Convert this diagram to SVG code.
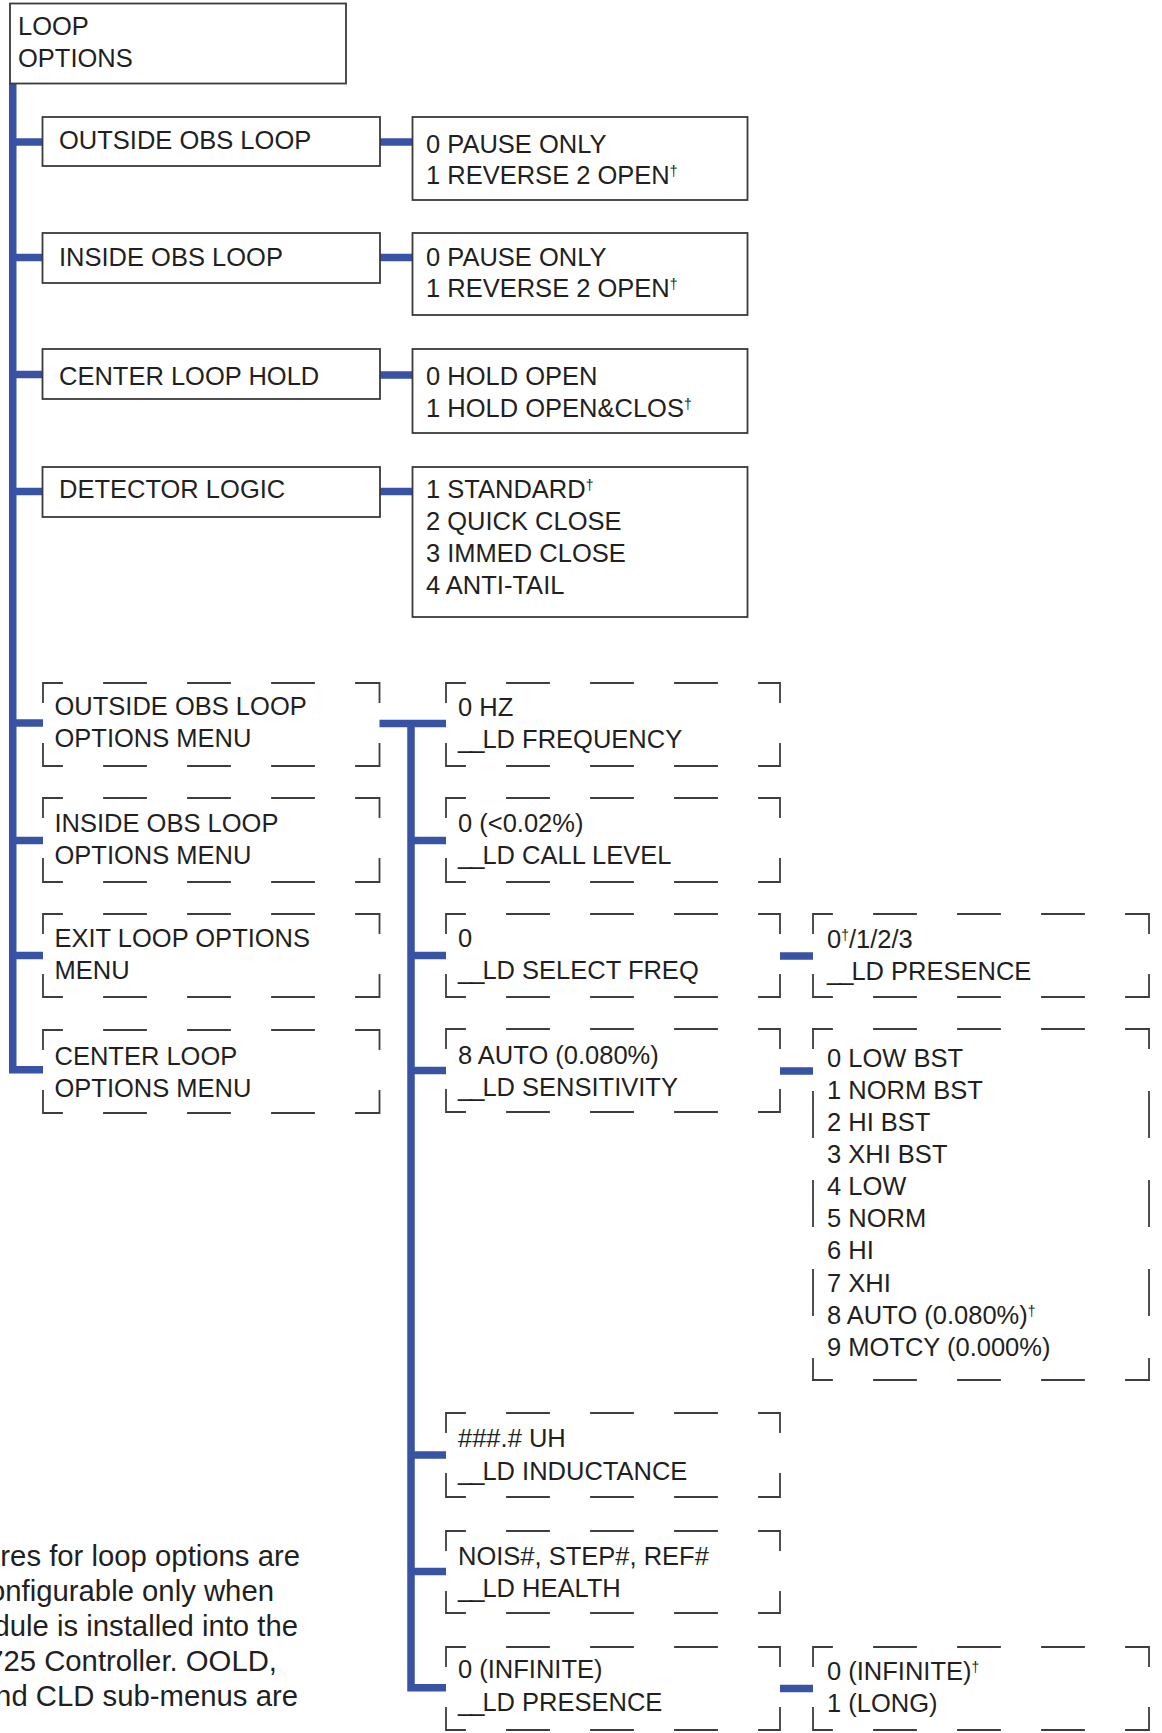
<svg xmlns="http://www.w3.org/2000/svg" width="1162" height="1733" viewBox="0 0 1162 1733">
<style>
.t{font-family:"Liberation Sans",Arial,Helvetica,sans-serif;font-size:25.5px;fill:#231f20}
.fn{font-family:"Liberation Sans",Arial,Helvetica,sans-serif;font-size:29.3px;fill:#231f20;text-anchor:end}
.sup{font-size:14px}
.us{letter-spacing:-2px}
.box{fill:#fff;stroke:#3a3a3a;stroke-width:1.8}
.dsh{fill:none;stroke:#3d3d3d;stroke-width:1.8;stroke-dasharray:42 42;stroke-dashoffset:23;stroke-linecap:square}
.dshv{fill:none;stroke:#3d3d3d;stroke-width:1.8;stroke-dasharray:45 44;stroke-dashoffset:26;stroke-linecap:square}
.wire{fill:none;stroke:#3953a4;stroke-width:7.5;stroke-linecap:butt}
</style>
<rect width="1162" height="1733" fill="#fff"/>

<g id="connectors">
<path class="wire" d="M12.75 83 V1073.5 M12.75 142 H42.5 M12.75 257.5 H42.5 M12.75 374.5 H42.5 M12.75 491.5 H42.5 M12.75 723 H43 M12.75 840.5 H43 M12.75 955.5 H43 M12.75 1069.75 H43"/>
<path class="wire" d="M380 142 H412.5 M380 257.5 H412.5 M380 375 H412.5 M380 491.5 H412.5"/>
<path class="wire" d="M379.5 723.5 H446 M411 719.75 V1691.5 M411 840.5 H446 M411 955.5 H446 M411 1070.5 H446 M411 1455 H446 M411 1571.5 H446 M411 1687.75 H446"/>
<path class="wire" d="M780 956 H813 M780 1071 H813 M780 1688.5 H813"/>
</g>

<g id="loop-options">
<rect class="box" x="10" y="3.5" width="336" height="80"/>
<text class="t" x="18" y="35">LOOP</text>
<text class="t" x="18" y="67">OPTIONS</text>
</g>

<g id="outside-obs-loop">
<rect class="box" x="42.5" y="117" width="337.5" height="49"/>
<text class="t" x="59" y="149">OUTSIDE OBS LOOP</text>
</g>
<g id="outside-obs-values">
<rect class="box" x="412.5" y="117" width="335" height="83"/>
<text class="t" x="426" y="153">0 PAUSE ONLY</text>
<text class="t" x="426" y="184">1 REVERSE 2 OPEN<tspan class="sup" dy="-8">†</tspan></text>
</g>

<g id="inside-obs-loop">
<rect class="box" x="42.5" y="233" width="337.5" height="50"/>
<text class="t" x="59" y="266">INSIDE OBS LOOP</text>
</g>
<g id="inside-obs-values">
<rect class="box" x="412.5" y="233" width="335" height="82"/>
<text class="t" x="426" y="266">0 PAUSE ONLY</text>
<text class="t" x="426" y="297">1 REVERSE 2 OPEN<tspan class="sup" dy="-8">†</tspan></text>
</g>

<g id="center-loop-hold">
<rect class="box" x="42.5" y="349" width="337.5" height="50"/>
<text class="t" x="59" y="385">CENTER LOOP HOLD</text>
</g>
<g id="center-loop-hold-values">
<rect class="box" x="412.5" y="349" width="335" height="84"/>
<text class="t" x="426" y="385">0 HOLD OPEN</text>
<text class="t" x="426" y="417">1 HOLD OPEN&amp;CLOS<tspan class="sup" dy="-8">†</tspan></text>
</g>

<g id="detector-logic">
<rect class="box" x="42.5" y="467" width="337.5" height="50"/>
<text class="t" x="59" y="498">DETECTOR LOGIC</text>
</g>
<g id="detector-logic-values">
<rect class="box" x="412.5" y="467" width="335" height="150"/>
<text class="t" x="426" y="498">1 STANDARD<tspan class="sup" dy="-8">†</tspan></text>
<text class="t" x="426" y="530">2 QUICK CLOSE</text>
<text class="t" x="426" y="562">3 IMMED CLOSE</text>
<text class="t" x="426" y="594">4 ANTI-TAIL</text>
</g>

<g id="oold-menu">
<path class="dsh" d="M43 683 H379.5 M43 683 V766 M379.5 683 V766 M43 766 H379.5"/>
<text class="t" x="54.5" y="715">OUTSIDE OBS LOOP</text>
<text class="t" x="54.5" y="747">OPTIONS MENU</text>
</g>
<g id="iold-menu">
<path class="dsh" d="M43 798 H379.5 M43 798 V882 M379.5 798 V882 M43 882 H379.5"/>
<text class="t" x="54.5" y="832">INSIDE OBS LOOP</text>
<text class="t" x="54.5" y="864">OPTIONS MENU</text>
</g>
<g id="exit-menu">
<path class="dsh" d="M43 914 H379.5 M43 914 V997 M379.5 914 V997 M43 997 H379.5"/>
<text class="t" x="54.5" y="947">EXIT LOOP OPTIONS</text>
<text class="t" x="54.5" y="979">MENU</text>
</g>
<g id="cld-menu">
<path class="dsh" d="M43 1030 H379.5 M43 1030 V1113 M379.5 1030 V1113 M43 1113 H379.5"/>
<text class="t" x="54.5" y="1065">CENTER LOOP</text>
<text class="t" x="54.5" y="1097">OPTIONS MENU</text>
</g>

<g id="ld-frequency">
<path class="dsh" d="M446 683 H780 M446 683 V766 M780 683 V766 M446 766 H780"/>
<text class="t" x="458" y="716">0 HZ</text>
<text class="t" x="458" y="748"><tspan class="us">__</tspan>LD FREQUENCY</text>
</g>
<g id="ld-call-level">
<path class="dsh" d="M446 798 H780 M446 798 V882 M780 798 V882 M446 882 H780"/>
<text class="t" x="458" y="832">0 (&lt;0.02%)</text>
<text class="t" x="458" y="864"><tspan class="us">__</tspan>LD CALL LEVEL</text>
</g>
<g id="ld-select-freq">
<path class="dsh" d="M446 914 H780 M446 914 V997 M780 914 V997 M446 997 H780"/>
<text class="t" x="458" y="947">0</text>
<text class="t" x="458" y="979"><tspan class="us">__</tspan>LD SELECT FREQ</text>
</g>
<g id="ld-sensitivity">
<path class="dsh" d="M446 1029 H780 M446 1029 V1112 M780 1029 V1112 M446 1112 H780"/>
<text class="t" x="458" y="1064">8 AUTO (0.080%)</text>
<text class="t" x="458" y="1096"><tspan class="us">__</tspan>LD SENSITIVITY</text>
</g>
<g id="ld-inductance">
<path class="dsh" d="M446 1413 H780 M446 1413 V1497 M780 1413 V1497 M446 1497 H780"/>
<text class="t" x="458" y="1447">###.# UH</text>
<text class="t" x="458" y="1480"><tspan class="us">__</tspan>LD INDUCTANCE</text>
</g>
<g id="ld-health">
<path class="dsh" d="M446 1531 H780 M446 1531 V1613 M780 1531 V1613 M446 1613 H780"/>
<text class="t" x="458" y="1565">NOIS#, STEP#, REF#</text>
<text class="t" x="458" y="1597"><tspan class="us">__</tspan>LD HEALTH</text>
</g>
<g id="ld-presence">
<path class="dsh" d="M446 1647 H780 M446 1647 V1730 M780 1647 V1730 M446 1730 H780"/>
<text class="t" x="458" y="1678">0 (INFINITE)</text>
<text class="t" x="458" y="1711"><tspan class="us">__</tspan>LD PRESENCE</text>
</g>

<g id="select-freq-values">
<path class="dsh" d="M813 914 H1149 M813 914 V997 M1149 914 V997 M813 997 H1149"/>
<text class="t" x="827" y="948">0<tspan class="sup" dy="-8">†</tspan><tspan dy="8">/1/2/3</tspan></text>
<text class="t" x="827" y="980"><tspan class="us">__</tspan>LD PRESENCE</text>
</g>
<g id="sensitivity-values">
<path class="dsh" d="M813 1029 H1149 M813 1380 H1149"/>
<path class="dshv" d="M813 1029 V1380 M1149 1029 V1380"/>
<text class="t" x="827" y="1067">0 LOW BST</text>
<text class="t" x="827" y="1099">1 NORM BST</text>
<text class="t" x="827" y="1131">2 HI BST</text>
<text class="t" x="827" y="1163">3 XHI BST</text>
<text class="t" x="827" y="1195">4 LOW</text>
<text class="t" x="827" y="1227">5 NORM</text>
<text class="t" x="827" y="1259">6 HI</text>
<text class="t" x="827" y="1292">7 XHI</text>
<text class="t" x="827" y="1324">8 AUTO (0.080%)<tspan class="sup" dy="-8">†</tspan></text>
<text class="t" x="827" y="1356">9 MOTCY (0.000%)</text>
</g>
<g id="presence-values">
<path class="dsh" d="M813 1647 H1149 M813 1647 V1730 M1149 1647 V1730 M813 1730 H1149"/>
<text class="t" x="827" y="1680">0 (INFINITE)<tspan class="sup" dy="-8">†</tspan></text>
<text class="t" x="827" y="1712">1 (LONG)</text>
</g>

<g id="footnote">
<text class="fn" x="300" y="1566">res for loop options are</text>
<text class="fn" x="274" y="1601">onfigurable only when</text>
<text class="fn" x="298" y="1636">dule is installed into the</text>
<text class="fn" x="277" y="1671">725 Controller. OOLD,</text>
<text class="fn" x="298" y="1706">nd CLD sub-menus are</text>
</g>
</svg>
